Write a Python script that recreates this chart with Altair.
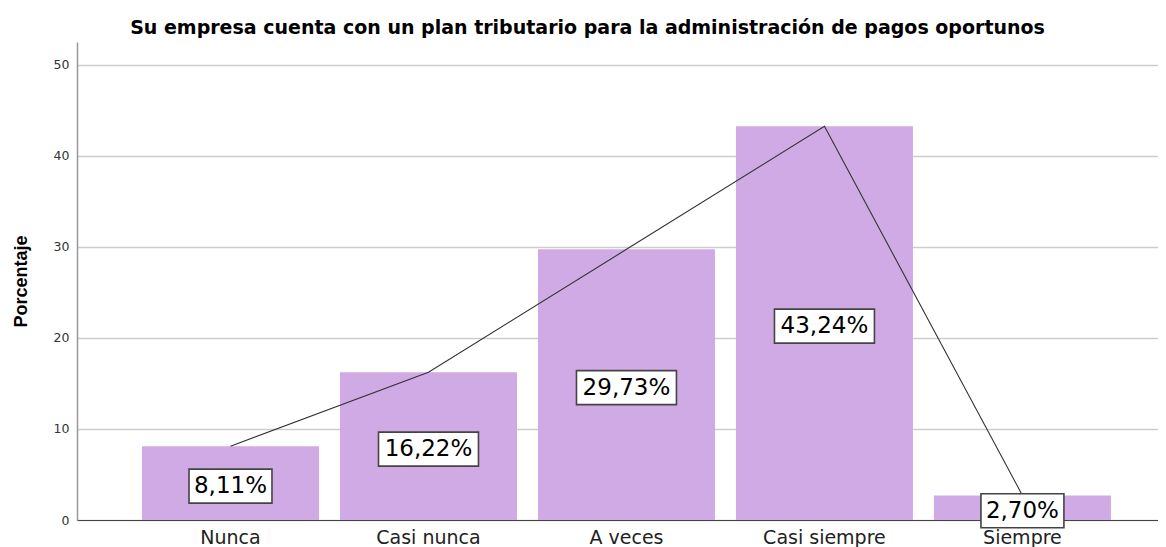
import altair as alt
import pandas as pd

categorias = ["Nunca", "Casi nunca", "A veces", "Casi siempre", "Siempre"]
porcentajes = [8.11, 16.22, 29.73, 43.24, 2.70]
etiquetas = ["8,11%", "16,22%", "29,73%", "43,24%", "2,70%"]
ticks_y = [0, 10, 20, 30, 40, 50]
titulo = "Su empresa cuenta con un plan tributario para la administración de pagos oportunos"

df = pd.DataFrame({"cat": categorias, "pct": porcentajes, "lab": etiquetas})
df["mid"] = df["pct"] / 2


def box_path(label):
    a = 1.22 if len(label) <= 5 else 1.47
    return f"M{-a},-0.5L{a},-0.5L{a},0.5L{-a},0.5Z"


paths = [box_path(l) for l in etiquetas]

xscale = alt.Scale(domain=categorias, paddingInner=0.106, paddingOuter=0.283, align=0.58)
yscale = alt.Scale(domain=[0, 52.5], nice=False, zero=True)

x_enc = alt.X(
    "cat:N",
    scale=xscale,
    sort=categorias,
    axis=alt.Axis(
        title=None,
        labelAngle=0,
        labelFontSize=19,
        labelColor="#222222",
        labelFont="DejaVu Sans",
        ticks=False,
        domainColor="#444444",
        domainWidth=1.2,
        labelPadding=8,
        grid=False,
    ),
)

y_enc = alt.Y(
    "pct:Q",
    scale=yscale,
    axis=alt.Axis(
        title="Porcentaje",
        titleFont="Liberation Sans",
        titleFontSize=18,
        titleFontWeight="bold",
        titleColor="black",
        titlePadding=23,
        values=ticks_y,
        labelFont="DejaVu Sans",
        labelFontSize=12.5,
        labelColor="#333333",
        labelPadding=8,
        ticks=False,
        domainColor="#999999",
        domainWidth=1.5,
        grid=True,
        gridColor="#cdcdcd",
        gridWidth=1.3,
    ),
)

base = alt.Chart(df)

bars = base.mark_bar(color="#D0AAE4").encode(x=x_enc, y=y_enc)

line = base.mark_line(color="#333333", strokeWidth=1.1).encode(
    x=alt.X("cat:N", scale=xscale, sort=categorias),
    y=alt.Y("pct:Q", scale=yscale),
)

boxes = base.mark_point(
    filled=True, fill="white", stroke="#444444", strokeWidth=1.6, opacity=1, size=4624
).encode(
    x=alt.X("cat:N", scale=xscale, sort=categorias),
    y=alt.Y("mid:Q", scale=yscale),
    yOffset=alt.value(3),
    shape=alt.Shape("lab:N", scale=alt.Scale(domain=etiquetas, range=paths), legend=None),
)

texts = base.mark_text(
    fontSize=23, font="DejaVu Sans", color="black", baseline="middle", dy=3
).encode(
    x=alt.X("cat:N", scale=xscale, sort=categorias),
    y=alt.Y("mid:Q", scale=yscale),
    text="lab:N",
)

chart = (
    alt.layer(bars, line, boxes, texts)
    .properties(
        width=1081,
        height=478,
        padding={"left": 69, "top": 34, "right": 0, "bottom": 27},
        autosize="none",
        background="white",
        title=alt.TitleParams(
            text=titulo,
            font="DejaVu Sans",
            fontSize=19,
            fontWeight="bold",
            color="black",
            anchor="middle",
            dx=-30,
            offset=4,
        ),
    )
    .configure_view(stroke=None)
)

chart.save("out.html", embed_options={"renderer": "svg", "actions": False})
